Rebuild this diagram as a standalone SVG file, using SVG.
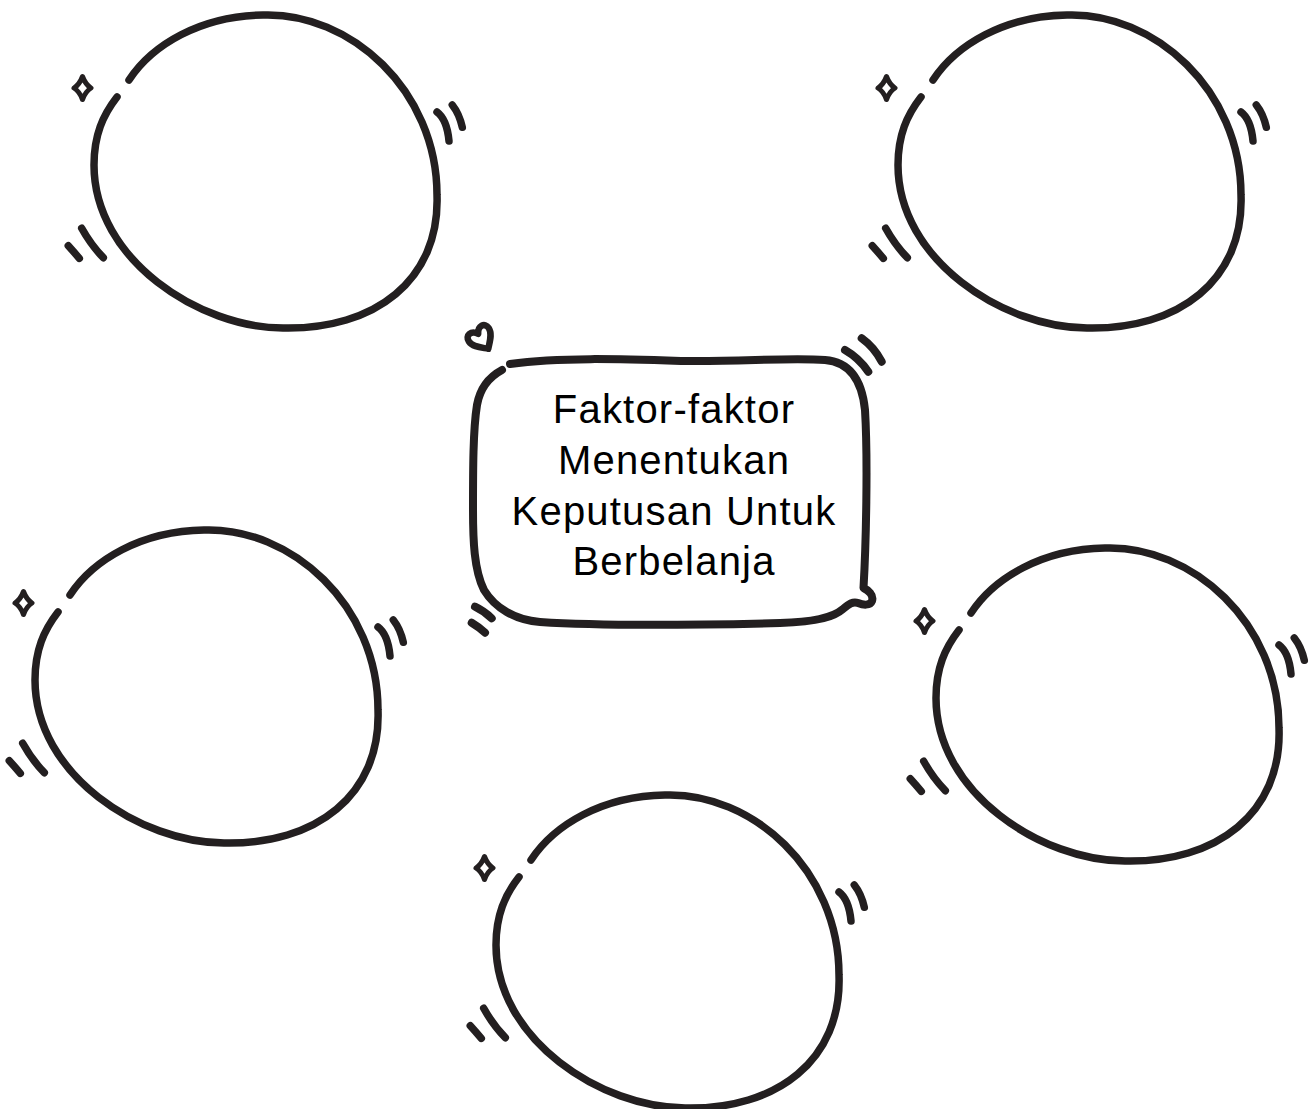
<svg xmlns="http://www.w3.org/2000/svg" xmlns:xlink="http://www.w3.org/1999/xlink" width="1314" height="1109" viewBox="0 0 1314 1109">
  <style>
    .ink { fill: none; stroke: #231f20; stroke-width: 7.5; stroke-linecap: round; stroke-linejoin: round; }
    .spark { fill: none; stroke: #231f20; stroke-width: 5; stroke-linecap: round; stroke-linejoin: round; }
    .heart { fill: none; stroke: #231f20; stroke-width: 6.5; stroke-linecap: round; stroke-linejoin: round; }
    .box { fill: none; stroke: #231f20; stroke-width: 8; stroke-linecap: round; stroke-linejoin: round; }
    .label { font-family: "Liberation Sans", Arial, sans-serif; font-size: 40px; letter-spacing: 1.2px; fill: #000; text-anchor: middle; }
  </style>
  <defs>
    <!-- hand-drawn blob with sparkle and motion ticks -->
    <g id="blob">
      <path class="ink" d="M129,80 C152,45 200,16 263,15 C350,12 437,90 437,195 C440,280 375,330 283,328 C200,328 94,260 94,165 C94,135 103,115 117,97"/>
      <path class="spark" d="M82.5,76.5 Q85.5,84.5 91,88 Q85.5,91.5 82.5,99.5 Q79.5,91.5 74,88 Q79.5,84.5 82.5,76.5 Z"/>
      <path class="ink" d="M437,112 Q447,119.5 449,141"/>
      <path class="ink" d="M452.3,105 Q459.3,113.8 462.3,127.3"/>
      <path class="ink" d="M81.7,228.3 Q91,245 103.3,257.7"/>
      <path class="ink" d="M68.3,245.7 Q74,252 79.3,258.3"/>
    </g>
  </defs>

  <g id="connectors"/>

  <g id="node-top-left"><use xlink:href="#blob" href="#blob"/></g>
  <g id="node-top-right"><use xlink:href="#blob" href="#blob" transform="translate(804,0)"/></g>
  <g id="node-mid-left"><use xlink:href="#blob" href="#blob" transform="translate(-59,515)"/></g>
  <g id="node-mid-right"><use xlink:href="#blob" href="#blob" transform="translate(842,533)"/></g>
  <g id="node-bottom"><use xlink:href="#blob" href="#blob" transform="translate(402,780)"/></g>

  <g id="node-center">
    <!-- speech bubble outline with tail at lower right -->
    <path class="box" d="M510,364 C560,357 620,359 683,361 C740,362 790,357 825,360 C850,362 862,380 865,410 C868,460 866,545 863.5,588 C868,590 874,595 872,601 C870,606 863,605 858,603 C853,601 849,604 843,609 C835,616 820,622 780,623 C700,625 600,626 540,622 C515,620 495,608 484,590 C474,570 473,540 473,510 C473,470 473,430 477,405 C480,388 489,377 502,370"/>
    <!-- heart -->
    <path class="heart" transform="translate(481,338) rotate(-34)" d="M0,13 C-5,8 -12,3 -12,-4 C-12,-11 -4,-12 0,-5 C4,-12 12,-11 12,-4 C12,3 5,8 0,13 Z"/>
    <path class="box" d="M845,350 Q859,358 868.3,371.7"/>
    <path class="box" d="M861.7,338.3 Q874,347 881.7,361.7"/>
    <path class="box" d="M475,606.7 Q484,611 491.7,618.3"/>
    <path class="box" d="M471.7,622.7 Q479,627 485,632.7"/>
    <text class="label" x="674" y="423">Faktor-faktor</text>
    <text class="label" x="674" y="474">Menentukan</text>
    <text class="label" x="674" y="524.5">Keputusan Untuk</text>
    <text class="label" x="674" y="575">Berbelanja</text>
  </g>
</svg>
